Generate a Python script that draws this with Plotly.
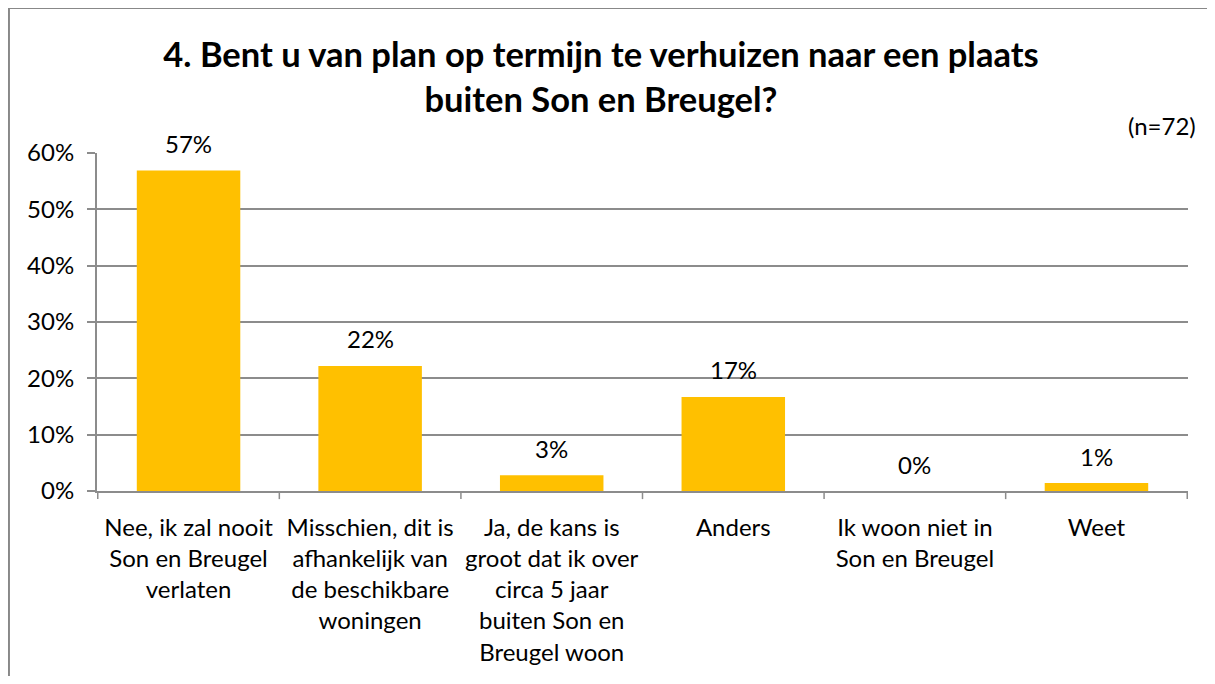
import plotly.graph_objects as go

categories = [
    "Nee, ik zal nooit<br>Son en Breugel<br>verlaten",
    "Misschien, dit is<br>afhankelijk van<br>de beschikbare<br>woningen",
    "Ja, de kans is<br>groot dat ik over<br>circa 5 jaar<br>buiten Son en<br>Breugel woon",
    "Anders",
    "Ik woon niet in<br>Son en Breugel",
    "Weet",
]
values = [56.9, 22.2, 2.8, 16.7, 0.0, 1.4]
labels = ["57%", "22%", "3%", "17%", "0%", "1%"]
tick_vals = [0, 10, 20, 30, 40, 50, 60]
tick_text = ["0%", "10%", "20%", "30%", "40%", "50%", "60%"]

FONT = "Lato, 'Open Sans', sans-serif"
GRID = "#8c8c8c"
FS = 24

fig = go.Figure()
fig.add_trace(go.Bar(
    x=categories, y=values, marker_color="#FFC000", marker_line_width=0,
    showlegend=False, hoverinfo="skip",
))

for c, v, t in zip(categories, values, labels):
    fig.add_annotation(x=c, y=v, text=t, showarrow=False, yshift=27,
                       yanchor="middle", font=dict(size=FS, color="#000", family=FONT))

fig.add_annotation(text="(n=72)", xref="paper", yref="paper", x=1.009, y=1.08,
                   xanchor="right", yanchor="middle", showarrow=False,
                   font=dict(size=FS, color="#000", family=FONT))

fig.add_shape(type="line", xref="paper", yref="paper", x0=-0.0807, x1=1.2, y0=1.429, y1=1.429,
              line=dict(color="#888888", width=2))
fig.add_shape(type="line", xref="paper", yref="paper", x0=-0.0807, x1=-0.0807, y0=1.429, y1=-0.7,
              line=dict(color="#888888", width=2))

fig.update_layout(
    width=1207, height=668,
    margin=dict(l=89, r=27, t=145, b=185, autoexpand=False),
    paper_bgcolor="white", plot_bgcolor="white",
    bargap=0.43,
    font=dict(family=FONT, size=FS, color="#000"),
    title=dict(
        text="<b>4. Bent u van plan op termijn te verhuizen naar een plaats<br>buiten Son en Breugel?</b>",
        x=(601 - 8) / 1207, xanchor="center", y=0.911, yanchor="middle",
        xref="container", yref="container",
        font=dict(size=34.5, color="#000", family=FONT),
    ),
    xaxis=dict(
        showgrid=False, showline=True, linecolor=GRID, linewidth=2,
        ticks="", ticklabelstandoff=14, automargin=False,
        tickfont=dict(size=FS, family=FONT, color="#000"),
        fixedrange=True,
    ),
    yaxis=dict(
        range=[0, 60], tickvals=tick_vals, ticktext=tick_text,
        showgrid=True, gridcolor=GRID, gridwidth=1.5,
        showline=True, linecolor=GRID, linewidth=2,
        ticks="outside", ticklen=8, tickcolor=GRID, tickwidth=1.5,
        ticklabelstandoff=8,
        tickfont=dict(size=FS, family=FONT, color="#000"),
        zeroline=False, fixedrange=True, automargin=False,
    ),
)

for i in range(len(categories) + 1):
    fig.add_shape(type="line", xref="x", yref="paper", x0=i - 0.5, x1=i - 0.5,
                  y0=0, y1=-0.024, line=dict(color=GRID, width=1.5))

fig.write_html("out.html")
